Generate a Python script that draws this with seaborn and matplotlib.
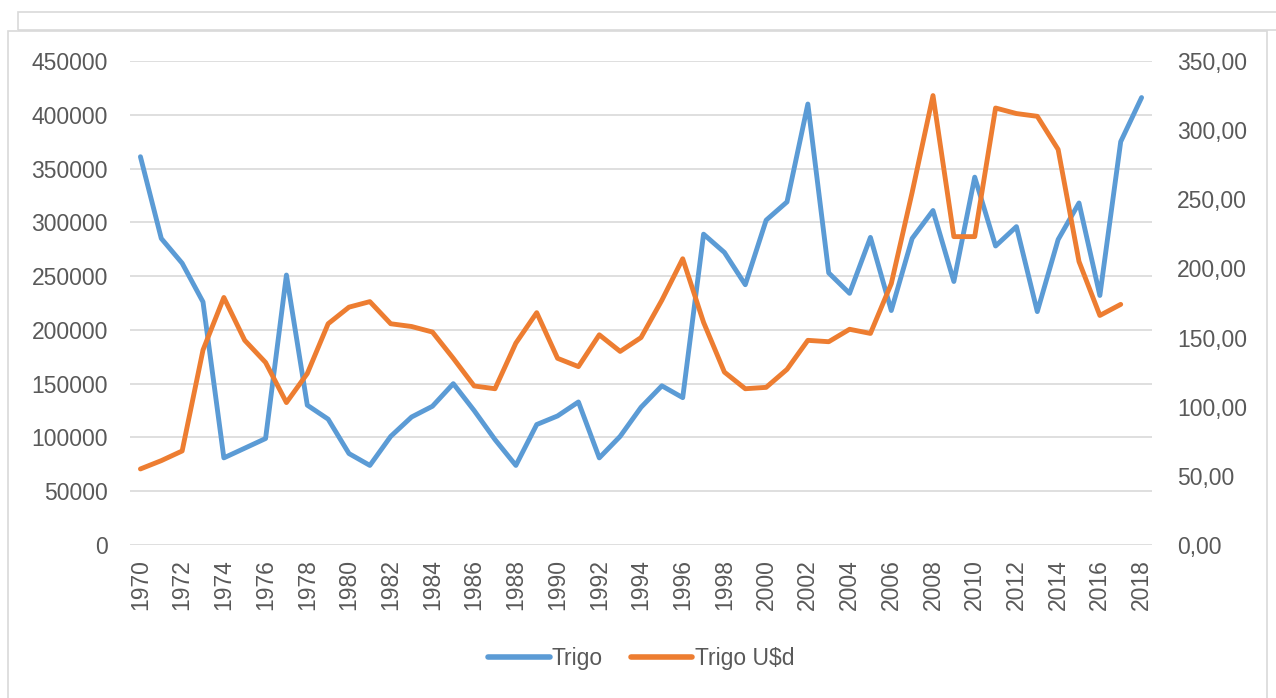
import pandas as pd
import matplotlib.pyplot as plt
import seaborn as sns
from matplotlib.patches import Rectangle
from matplotlib.ticker import FuncFormatter

# datos
anios = list(range(1970, 2019))
trigo = [361000, 285000, 262000, 226000, 81000, 90000, 99000, 251000, 130000, 117000,
         85000, 74000, 101000, 119000, 129000, 150000, 125000, 98000, 74000, 112000,
         120000, 133000, 81000, 101000, 128000, 148000, 137000, 289000, 272000, 242000,
         302000, 319000, 410000, 253000, 234000, 286000, 218000, 285000, 311000, 245000,
         342000, 278000, 296000, 217000, 284000, 318000, 232000, 375000, 416000]
trigo_usd = [55, 61, 68, 141, 179, 148, 132, 103, 124, 160,
             172, 176, 160, 158, 154, 135, 115, 113, 146, 168,
             135, 129, 152, 140, 150, 177, 207, 161, 125, 113,
             114, 127, 148, 147, 156, 153, 189, 255, 325, 223,
             223, 316, 312, 310, 286, 205, 166, 174]

df = pd.DataFrame({"anio": anios, "trigo": trigo})
df_usd = pd.DataFrame({"anio": anios[:len(trigo_usd)], "usd": trigo_usd})

azul = "#5B9BD5"
naranja = "#ED7D31"
gris = "#595959"

sns.set_theme(style="white")
plt.rcParams["font.family"] = ["Liberation Sans", "DejaVu Sans"]

fig = plt.figure(figsize=(12.76, 6.98), dpi=100)
ax = fig.add_axes([130 / 1276, 1 - 545 / 698, (1152 - 130) / 1276, (545 - 61) / 698])

# marcos del fondo (estilo Excel)
fig.patches.append(Rectangle((18 / 1276, 1 - 30 / 698), 1.0, 18 / 698, transform=fig.transFigure,
                             fill=False, edgecolor="#D9D9D9", lw=1.2, zorder=-5))
fig.patches.append(Rectangle((8 / 1276, -0.01), 1259 / 1276, 1 - 31 / 698 + 0.01,
                             transform=fig.transFigure, fill=False,
                             edgecolor="#D9D9D9", lw=1.2, zorder=-5))

sns.lineplot(data=df, x="anio", y="trigo", ax=ax, color=azul, lw=3.5, label="Trigo", legend=False)
ax2 = ax.twinx()
sns.lineplot(data=df_usd, x="anio", y="usd", ax=ax2, color=naranja, lw=3.5, label="Trigo U$d", legend=False)

ax.set_xlim(1969.5, 2018.5)
ax.set_ylim(0, 450000)
ax2.set_ylim(0, 350)
ax.set_yticks(range(0, 450001, 50000))
ax2.set_yticks(range(0, 351, 50))
ax.set_xticks(range(1970, 2019, 2))
ax.set_xticklabels([str(a) for a in range(1970, 2019, 2)], rotation=90)
ax2.yaxis.set_major_formatter(FuncFormatter(lambda v, p: f"{v:.2f}".replace(".", ",")))

ax.grid(axis="y", color="#D9D9D9", lw=1.2)
ax.set_axisbelow(True)
for a in (ax, ax2):
    a.patch.set_visible(False)
    for s in a.spines.values():
        s.set_visible(False)
    a.set_xlabel("")
    a.set_ylabel("")
    a.tick_params(length=0, labelsize=16.5, colors=gris)
ax.tick_params(axis="y", pad=16)
ax2.tick_params(axis="y", which="both", pad=18)
ax.tick_params(axis="x", pad=10)

h1, l1 = ax.get_legend_handles_labels()
h2, l2 = ax2.get_legend_handles_labels()
leg = fig.legend(h1 + h2, l1 + l2, loc="center", bbox_to_anchor=(641 / 1276, 1 - 659 / 698), ncol=2,
                 frameon=False, fontsize=16.5, labelcolor=gris, handlelength=2.7, handletextpad=0.1,
                 columnspacing=1.2)
for linea in leg.get_lines():
    linea.set_linewidth(4)

fig.savefig("out.png", dpi=100)
